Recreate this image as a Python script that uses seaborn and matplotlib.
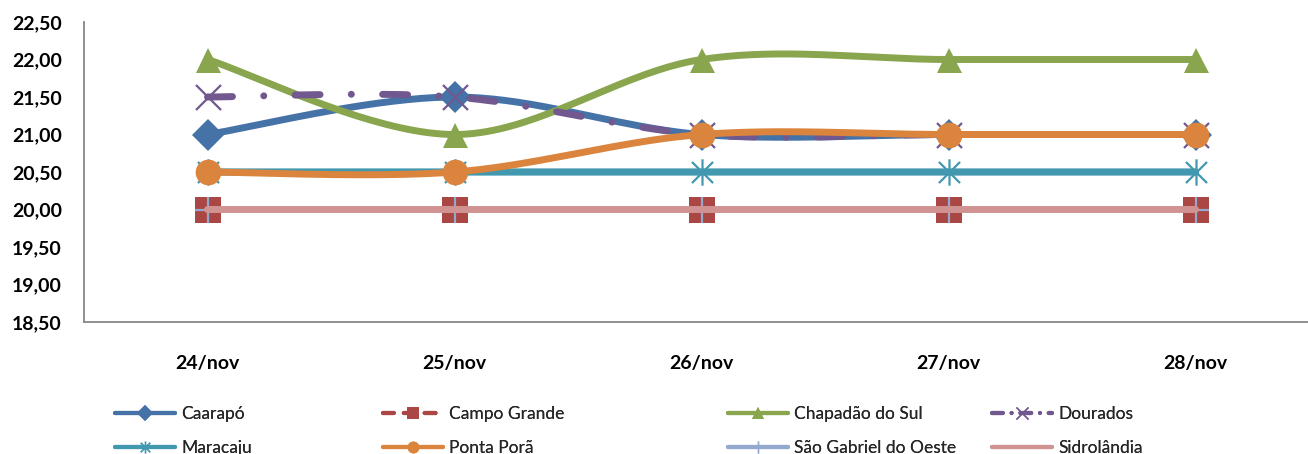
import numpy as np
import matplotlib
matplotlib.use("Agg")
import matplotlib.pyplot as plt
from matplotlib.lines import Line2D
from matplotlib.path import Path
from matplotlib.ticker import FuncFormatter, MultipleLocator
import seaborn as sns

# ---- data -------------------------------------------------------------
dates = ["24/nov", "25/nov", "26/nov", "27/nov", "28/nov"]
caarapo = [21.0, 21.5, 21.0, 21.0, 21.0]
campo_grande = [20.0, 20.0, 20.0, 20.0, 20.0]
chapadao_do_sul = [22.0, 21.0, 22.0, 22.0, 22.0]
dourados = [21.5, 21.5, 21.0, 21.0, 21.0]
maracaju = [20.5, 20.5, 20.5, 20.5, 20.5]
ponta_pora = [20.5, 20.5, 21.0, 21.0, 21.0]
sao_gabriel = [20.0, 20.0, 20.0, 20.0, 20.0]
sidrolandia = [20.0, 20.0, 20.0, 20.0, 20.0]

series_names = ["Caarapó", "Campo Grande", "Chapadão do Sul", "Dourados",
                "Maracaju", "Ponta Porã", "São Gabriel do Oeste", "Sidrolândia"]
series_values = [caarapo, campo_grande, chapadao_do_sul, dourados,
                 maracaju, ponta_pora, sao_gabriel, sidrolandia]

# star marker: an X crossed by a vertical bar
star = Path([(-1, -1), (1, 1), (-1, 1), (1, -1), (0, -1.25), (0, 1.25)],
            [Path.MOVETO, Path.LINETO, Path.MOVETO, Path.LINETO,
             Path.MOVETO, Path.LINETO])

styles = [
    dict(color="#4572A7", lw=5.0, dashes=None, leg_dashes=None, marker="D", ms=16, mew=0),
    dict(color="#AA4643", lw=2.4, dashes=None, leg_dashes=(2.6, 2.4), marker="s", ms=18.5, mew=0),
    dict(color="#89A54E", lw=5.0, dashes=None, leg_dashes=None, marker="^", ms=18, mew=0),
    dict(color="#71588F", lw=5.0, dashes=(3.6, 4.5, 0.01, 4.5),
         leg_dashes=(2.6, 2.1, 0.01, 2.1), marker="x", ms=18, mew=1.6),
    dict(color="#4198AF", lw=5.2, dashes=None, leg_dashes=None, marker=star, ms=19, mew=1.6),
    dict(color="#DB843D", lw=5.0, dashes=None, leg_dashes=None, marker="o", ms=18.5, mew=0),
    dict(color="#93A9CF", lw=2.4, dashes=None, leg_dashes=None, marker="+", ms=18.5, mew=1.6),
    dict(color="#D19392", lw=5.0, dashes=None, leg_dashes=None, marker=None, ms=0, mew=0),
]


def smooth_curve(xs, ys, n=40):
    """Cubic Bezier smoothing through the points (Catmull-Rom control points)."""
    p = np.column_stack([xs, ys]).astype(float)
    ext = np.vstack([p[0], p, p[-1]])
    t = np.linspace(0.0, 1.0, n)[:, None]
    parts = []
    for i in range(len(p) - 1):
        p0, p1 = ext[i + 1], ext[i + 2]
        c1 = p0 + (ext[i + 2] - ext[i]) / 6.0
        c2 = p1 - (ext[i + 3] - ext[i + 1]) / 6.0
        seg = ((1 - t) ** 3) * p0 + 3 * ((1 - t) ** 2) * t * c1 \
            + 3 * (1 - t) * (t ** 2) * c2 + (t ** 3) * p1
        parts.append(seg if i == 0 else seg[1:])
    return np.round(np.vstack(parts), 9)


sns.set_style("white")
plt.rcParams["font.family"] = ["Lato", "DejaVu Sans"]

fig = plt.figure(figsize=(13.08, 4.54), dpi=100)
ax = fig.add_axes([84 / 1308, 1 - 322 / 454, 1 - 84 / 1308, 300 / 454])

x_pos = np.arange(len(dates))
for k, (name, vals, st) in enumerate(zip(series_names, series_values, styles)):
    curve = smooth_curve(x_pos, vals)
    sns.lineplot(x=curve[:, 0], y=curve[:, 1], sort=False, estimator=None,
                 color=st["color"], linewidth=st["lw"], ax=ax, zorder=3 + 2 * k)
    line = ax.lines[-1]
    line.set_snap(False)
    line.set_solid_capstyle("round")
    line.set_solid_joinstyle("round")
    if st["dashes"] is not None:
        line.set_dashes(st["dashes"])
        line.set_dash_capstyle("round")
    if st["marker"] is not None:
        sns.lineplot(x=x_pos, y=vals, sort=False, estimator=None, ax=ax,
                     color=st["color"], linestyle="", marker=st["marker"],
                     markersize=st["ms"], markeredgewidth=st["mew"],
                     markeredgecolor=st["color"], zorder=4 + 2 * k)

# axes
ax.set_xlim(-0.5, (1308 - 207.5) / 247.0)
ax.set_ylim(18.5, 22.5)
ax.yaxis.set_major_locator(MultipleLocator(0.5))
ax.yaxis.set_major_formatter(FuncFormatter(lambda v, _: f"{v:.2f}".replace(".", ",")))
ax.set_xticks(x_pos)
ax.set_xticklabels(dates)
ax.tick_params(axis="both", length=0, labelsize=14)
ax.tick_params(axis="y", pad=16)
ax.tick_params(axis="x", pad=24)
for lab in ax.get_xticklabels() + ax.get_yticklabels():
    lab.set_fontweight("bold")
    lab.set_color("black")
ax.set_xlabel("")
ax.set_ylabel("")
ax.grid(False)
for side in ("top", "right"):
    ax.spines[side].set_visible(False)
for side in ("left", "bottom"):
    ax.spines[side].set_color("#878787")
    ax.spines[side].set_linewidth(1.3)

# legend: four columns of two entries
handles = []
for name, st in zip(series_names, styles):
    h = Line2D([], [], color=st["color"], lw=3.0,
               marker=st["marker"], markersize=8.5 if st["marker"] is not None else 0,
               markeredgewidth=1.0 if st["mew"] else 0,
               markeredgecolor=st["color"])
    if st["leg_dashes"] is not None:
        h.set_dashes(st["leg_dashes"])
        h.set_dash_capstyle("round")
    handles.append(h)

col_x = [115, 383, 728, 992]
order = [(0, 4), (1, 5), (2, 6), (3, 7)]
for cx, (a, b) in zip(col_x, order):
    leg = fig.legend([handles[a], handles[b]], [series_names[a], series_names[b]],
                     loc="center left", bbox_to_anchor=(cx / 1308, 1 - 431 / 454),
                     frameon=False, fontsize=12.5, handlelength=3.45,
                     handletextpad=0.35, labelspacing=1.05, borderpad=0,
                     borderaxespad=0)
    fig.add_artist(leg)

fig.savefig("out.png", dpi=100)
